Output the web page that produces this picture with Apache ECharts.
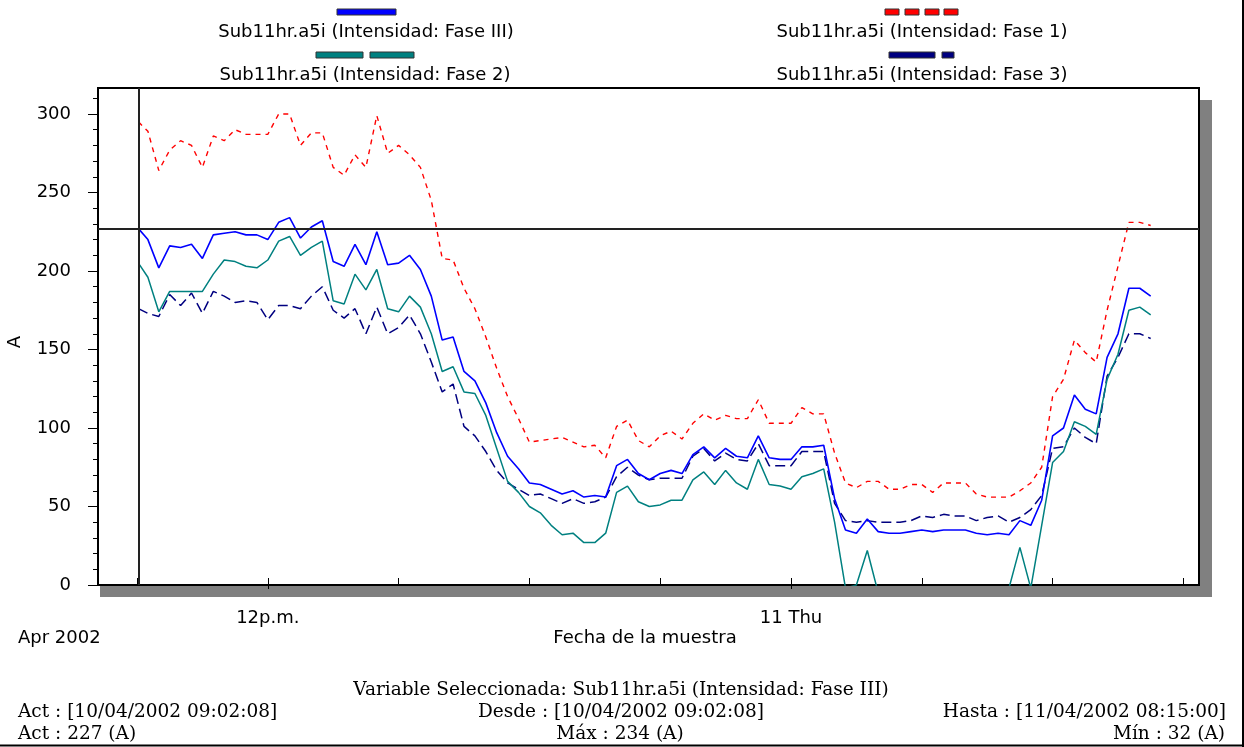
<!DOCTYPE html>
<html>
<head>
<meta charset="utf-8">
<script src="https://cdn.jsdelivr.net/npm/echarts@6/dist/echarts.min.js"></script>
<style>
html,body{margin:0;padding:0;background:#fff;}
#chart{width:1244px;height:747px;}
</style>
</head>
<body>
<div id="chart"></div>
<script>
// ---- data (sample times on 10/04/2002 -> 11/04/2002) ----
var times = [
 "09:02","09:15","09:30","09:45",
 "10:00","10:15","10:30","10:45","11:00","11:15","11:30","11:45",
 "12:00","12:15","12:30","12:45","13:00","13:15","13:30","13:45",
 "14:00","14:15","14:30","14:45","15:00","15:15","15:30","15:45",
 "16:00","16:15","16:30","16:45","17:00","17:15","17:30","17:45",
 "18:00","18:15","18:30","18:45","19:00","19:15","19:30","19:45",
 "20:00","20:15","20:30","20:45","21:00","21:15","21:30","21:45",
 "22:00","22:15","22:30","22:45","23:00","23:15","23:30","23:45",
 "00:00","00:15","00:30","00:45","01:00","01:15","01:30","01:45",
 "02:00","02:15","02:30","02:45","03:00","03:15","03:30","03:45",
 "04:00","04:15","04:30","04:45","05:00","05:15","05:30","05:45",
 "06:00","06:15","06:30","06:45","07:00","07:15","07:30","07:45",
 "08:00","08:15"
];
var faseIII = [
 227,220,202,216,215,217,208,223,224,225,
 223,223,220,231,234,221,228,232,206,203,
 217,204,225,204,205,210,201,184,156,158,
 136,130,116,97,82,74,65,64,61,58,
 60,56,57,56,76,80,71,67,71,73,
 71,83,88,81,87,82,81,95,81,80,
 80,88,88,89,55,35,33,42,34,33,
 33,34,35,34,35,35,35,33,32,33,
 32,41,38,54,95,100,121,112,109,145,
 160,189,189,184
];
var fase1 = [
 295,289,264,277,283,280,266,286,283,290,
 287,287,287,300,300,280,288,288,266,261,
 274,266,299,275,280,274,266,245,208,207,
 189,176,158,138,120,106,91,92,93,94,
 91,88,89,81,101,105,92,88,95,98,
 93,103,109,105,108,106,106,118,103,103,
 103,113,109,109,84,65,62,66,66,61,
 61,64,64,59,65,65,65,58,56,56,
 56,60,65,75,120,131,156,148,142,175,
 203,231,231,229
];
var fase2 = [
 205,196,174,187,187,187,187,198,207,206,
 203,202,207,219,222,210,215,219,181,179,
 198,188,201,176,174,184,177,160,136,139,
 123,122,108,87,66,59,50,46,38,32,
 33,27,27,33,59,63,53,50,51,54,
 54,67,72,64,73,65,61,80,64,63,
 61,69,71,74,40,-2,0,22,-5,-20,
 -20,-20,-20,-20,-20,-20,-20,-20,-20,-20,
 -2,24,-2,38,78,85,104,101,96,131,
 147,175,177,172
];
var fase3 = [
 176,173,171,185,178,186,173,187,184,180,
 181,180,169,178,178,176,184,190,175,170,
 176,160,177,160,164,172,160,142,123,128,
 101,95,85,73,65,61,57,58,55,52,
 55,52,53,56,69,75,70,67,68,68,
 68,82,87,79,84,80,79,90,76,76,
 76,85,85,85,52,41,40,41,40,40,
 40,41,44,43,45,44,44,41,43,44,
 40,43,48,57,87,88,100,94,90,133,
 145,160,160,157
];
var yTicks = [0,50,100,150,200,250,300];
var xTickHours = [9,12,15,18,21,24,27,30,33];
var xLabelHours = [12,24];
var xLabelText = {12:"12p.m.",24:"11 Thu"};
var cursorTime = "09:02:08";
var cursorValue = 227;
var seriesNames = [
 "Sub11hr.a5i (Intensidad: Fase III)",
 "Sub11hr.a5i (Intensidad: Fase 1)",
 "Sub11hr.a5i (Intensidad: Fase 2)",
 "Sub11hr.a5i (Intensidad: Fase 3)"
];

// ---- convert times to hours since 10/04 00:00 ----
function toHours(list){
  var out=[], day=0, prev=-1;
  for (var i=0;i<list.length;i++){
    var p=list[i].split(":"), h=+p[0]+(+p[1])/60+(p[2]?(+p[2])/3600:0);
    if (h<prev) day+=24;
    prev=h; out.push(h+day);
  }
  return out;
}
var hrs = toHours(times);
var cursorHour = toHours([cursorTime])[0];
function pairs(vals){ return vals.map(function(v,i){return [hrs[i],v];}); }

var minorY=[]; for (var t=10;t<=310;t+=10) minorY.push(t);

var SANS = "DejaVu Sans";
var SERIF = "DejaVu Serif";
var XMIN = 8.1055, XMAX = 33.358, YMAX = 316.56;

var chart = echarts.init(document.getElementById('chart'), null, {renderer:'canvas'});

function txt(x,y,s,opt){
  opt=opt||{};
  return {type:'text', x:x, y:y, z:50, rotation:opt.rot||0,
    style:{text:s, fill:'#000', font:(opt.size||18)+'px "'+(opt.family||SANS)+'"',
      textAlign:opt.align||'center', textVerticalAlign:'middle'}};
}
function bar(x,y,w,h,c){
  return {type:'rect', z:50, shape:{x:x,y:y,width:w,height:h}, style:{fill:c, stroke:'#333', lineWidth:1}};
}

var graphics = [
  // drop shadow of plot frame
  {type:'rect', z:-10, shape:{x:1200,y:100,width:12,height:497}, style:{fill:'#808080'}},
  {type:'rect', z:-10, shape:{x:100,y:586,width:1112,height:11}, style:{fill:'#808080'}},
  // legend
  bar(337,9,59,6,'#0000ff'),
  bar(885,9,14,6,'#ff0000'), bar(905,9,14,6,'#ff0000'), bar(925,9,14,6,'#ff0000'), bar(944,9,14,6,'#ff0000'),
  bar(316,52,47,6,'#008080'), bar(370,52,44,6,'#008080'),
  bar(889,52,46,6,'#000080'), bar(942,52,12,6,'#000080'),
  txt(366,32,seriesNames[0]), txt(922,32,seriesNames[1]),
  txt(365,75,seriesNames[2]), txt(922,75,seriesNames[3]),
  // axis names
  txt(15,342,'A',{rot:Math.PI/2}),
  txt(18,638,'Apr 2002',{align:'left'}),
  txt(645,638,'Fecha de la muestra'),
  // info block
  txt(621,690,'Variable Seleccionada: Sub11hr.a5i (Intensidad: Fase III)',{family:SERIF,size:18.5}),
  txt(18,712,'Act : [10/04/2002 09:02:08]',{family:SERIF,size:18.5,align:'left'}),
  txt(621,712,'Desde : [10/04/2002 09:02:08]',{family:SERIF,size:18.5}),
  txt(1226,712,'Hasta : [11/04/2002 08:15:00]',{family:SERIF,size:18.5,align:'right'}),
  txt(18,734,'Act : 227 (A)',{family:SERIF,size:18.5,align:'left'}),
  txt(620,734,'Máx : 234 (A)',{family:SERIF,size:18.5}),
  txt(1225,734,'Mín : 32 (A)',{family:SERIF,size:18.5,align:'right'}),
  // outer frame (right/bottom)
  {type:'line', z:50, shape:{x1:0,y1:745.5,x2:1244,y2:745.5}, style:{stroke:'#000',lineWidth:2}},
  {type:'line', z:50, shape:{x1:1243,y1:0,x2:1243,y2:747}, style:{stroke:'#000',lineWidth:2}}
];

var option = {
  animation:false,
  backgroundColor:'#fff',
  grid:{left:98,right:45,top:88,bottom:162,show:true,backgroundColor:'#fff',borderColor:'#000',borderWidth:2},
  xAxis:[
    {type:'value',min:XMIN,max:XMAX,position:'bottom',
     axisLine:{show:true,lineStyle:{color:'#000',width:2}},
     axisTick:{show:true,inside:true,length:7,customValues:xTickHours,lineStyle:{color:'#000',width:1}},
     axisLabel:{show:false},splitLine:{show:false}},
    {type:'value',min:XMIN,max:XMAX,position:'bottom',offset:12,
     axisLine:{show:false},
     axisTick:{show:true,inside:false,length:4,customValues:xLabelHours,lineStyle:{color:'#000',width:1}},
     axisLabel:{show:true,customValues:xLabelHours,margin:12,color:'#000',fontFamily:SANS,fontSize:18,
       formatter:function(v){return xLabelText[v]||'';}},
     splitLine:{show:false}}
  ],
  yAxis:[
    {type:'value',min:0,max:YMAX,
     axisLine:{show:true,lineStyle:{color:'#000',width:2}},
     axisTick:{show:true,inside:false,length:10,customValues:yTicks,lineStyle:{color:'#000',width:1}},
     axisLabel:{show:true,customValues:yTicks,margin:27,color:'#000',fontFamily:SANS,fontSize:18},
     splitLine:{show:false}},
    {type:'value',min:0,max:YMAX,position:'left',
     axisLine:{show:false},
     axisTick:{show:true,inside:false,length:5,customValues:minorY,lineStyle:{color:'#000',width:1}},
     axisLabel:{show:false},splitLine:{show:false}}
  ],
  series:[
    {name:seriesNames[1],type:'line',data:pairs(fase1),showSymbol:false,symbol:'none',
     lineStyle:{color:'#ff0000',width:1.4,type:[5,5]}},
    {name:seriesNames[3],type:'line',data:pairs(fase3),showSymbol:false,symbol:'none',
     lineStyle:{color:'#000080',width:1.5,type:[10,5]}},
    {name:seriesNames[2],type:'line',data:pairs(fase2),showSymbol:false,symbol:'none',
     lineStyle:{color:'#008080',width:1.5,type:'solid'}},
    {name:seriesNames[0],type:'line',data:pairs(faseIII),showSymbol:false,symbol:'none',
     lineStyle:{color:'#0000ff',width:1.6,type:'solid'},
     markLine:{silent:true,symbol:'none',label:{show:false},animation:false,
       lineStyle:{color:'#222',width:2,type:'solid'},
       data:[{yAxis:cursorValue},{xAxis:cursorHour}]}}
  ],
  graphic:graphics
};
chart.setOption(option);
</script>
</body>
</html>
